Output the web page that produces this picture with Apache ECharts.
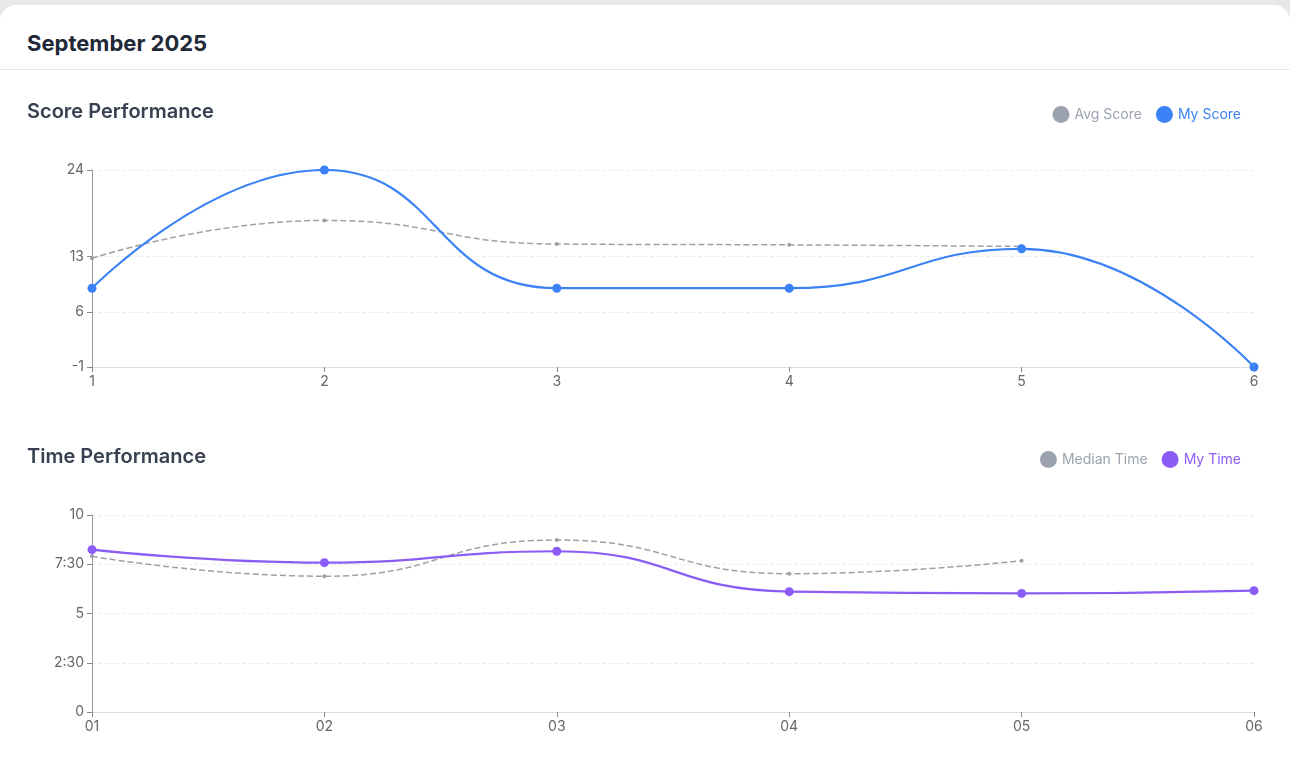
<!DOCTYPE html>
<html>
<head>
<meta charset="utf-8">
<script src="https://cdn.jsdelivr.net/npm/echarts@6/dist/echarts.min.js"></script>
<style>
  html, body { margin: 0; padding: 0; background: #e8e8e8; width: 1290px; height: 768px; overflow: hidden; font-family: Inter, sans-serif; }
  .card { position: absolute; left: 0; top: 5px; width: 1290px; height: 780px; background: #fff; border-radius: 16px 16px 0 0; }
  .head { height: 65px; border-bottom: 1px solid #e5e7eb; box-sizing: border-box; padding-left: 27px; padding-top: 11px; display: flex; align-items: center; }
  .head h1 { margin: 0; font-size: 22px; font-weight: 700; color: #1f2937; }
  #chart { position: absolute; left: 0; top: 66px; width: 1290px; height: 697px; }
</style>
</head>
<body>
<div class="card">
  <div class="head"><h1>September 2025</h1></div>
  <div id="chart"></div>
</div>
<script>
var scoreDays = ['1', '2', '3', '4', '5', '6'];
var myScore = [9, 24, 9, 9, 14, -1];
var avgScore = [12.8, 17.6, 14.6, 14.5, 14.3, null];
var scoreTicks = [-1, 6, 13, 24];

var timeDays = ['01', '02', '03', '04', '05', '06'];
var myTime = [8.24, 7.58, 8.16, 6.11, 6.02, 6.16];
var medianTime = [7.9, 6.89, 8.73, 7.02, 7.68, null];

var chart = echarts.init(document.getElementById('chart'));

function fmtTime(v) {
    var m = Math.floor(v);
    var s = Math.round((v - m) * 60);
    if (s === 0) return String(m);
    return m + ':' + (s < 10 ? '0' + s : s);
}

var axisText = { color: '#666', fontSize: 14, fontFamily: 'Inter' };
var split = { show: true, lineStyle: { color: '#efefef', type: 'dashed' } };
var titleText = { fontSize: 20, fontWeight: 600, color: '#374151', fontFamily: 'Inter' };
var legendText = { fontSize: 14, fontFamily: 'Inter', color: 'inherit' };

var option = {
    animation: false,
    textStyle: { fontFamily: 'Inter' },
    title: [
        { text: 'Score Performance', left: 22, top: 26, textStyle: titleText },
        { text: 'Time Performance', left: 22, top: 371, textStyle: titleText }
    ],
    legend: [
        {
            right: 44, top: 30, icon: 'circle', itemWidth: 17, itemHeight: 17, itemGap: 14,
            data: [{ name: 'Avg Score', itemStyle: { color: '#9ca3af' } }, 'My Score'],
            textStyle: legendText
        },
        {
            right: 44, top: 375, icon: 'circle', itemWidth: 17, itemHeight: 17, itemGap: 14,
            data: [{ name: 'Median Time', itemStyle: { color: '#9ca3af' } }, 'My Time'],
            textStyle: legendText
        }
    ],
    grid: [
        { left: 92, right: 36, top: 99, height: 197 },
        { left: 92, right: 36, top: 444, height: 197 }
    ],
    xAxis: [
        {
            type: 'category', gridIndex: 0, data: scoreDays, boundaryGap: false,
            axisLine: { onZero: false, lineStyle: { color: '#dddddd' } },
            axisTick: { lineStyle: { color: '#888' } },
            axisLabel: axisText
        },
        {
            type: 'category', gridIndex: 1, data: timeDays, boundaryGap: false,
            axisLine: { onZero: false, lineStyle: { color: '#dddddd' } },
            axisTick: { lineStyle: { color: '#888' } },
            axisLabel: axisText
        }
    ],
    yAxis: [
        {
            type: 'value', gridIndex: 0, min: -1, max: 24,
            axisLine: { show: true, lineStyle: { color: '#999' } },
            axisTick: { show: true, customValues: scoreTicks, lineStyle: { color: '#888' } },
            axisLabel: Object.assign({ customValues: scoreTicks }, axisText),
            splitLine: split
        },
        {
            type: 'value', gridIndex: 1, min: 0, max: 10, interval: 2.5,
            axisLine: { show: true, lineStyle: { color: '#999' } },
            axisTick: { show: true, lineStyle: { color: '#888' } },
            axisLabel: Object.assign({ formatter: fmtTime }, axisText),
            splitLine: split
        }
    ],
    series: [
        {
            name: 'Avg Score', type: 'line', xAxisIndex: 0, yAxisIndex: 0, data: avgScore, smooth: true,
            symbol: 'circle', symbolSize: 4,
            itemStyle: { color: '#a0a0a0' },
            lineStyle: { color: '#a0a0a0', width: 1.5, type: 'dashed' }
        },
        {
            name: 'My Score', type: 'line', xAxisIndex: 0, yAxisIndex: 0, data: myScore, smooth: true,
            symbol: 'circle', symbolSize: 9, color: '#3b82f6',
            lineStyle: { width: 2.2 }
        },
        {
            name: 'Median Time', type: 'line', xAxisIndex: 1, yAxisIndex: 1, data: medianTime, smooth: true,
            symbol: 'circle', symbolSize: 4,
            itemStyle: { color: '#a0a0a0' },
            lineStyle: { color: '#a0a0a0', width: 1.5, type: 'dashed' }
        },
        {
            name: 'My Time', type: 'line', xAxisIndex: 1, yAxisIndex: 1, data: myTime, smooth: true,
            symbol: 'circle', symbolSize: 9, color: '#8b5cf6',
            lineStyle: { width: 2.2 }
        }
    ]
};

chart.setOption(option);
</script>
</body>
</html>
